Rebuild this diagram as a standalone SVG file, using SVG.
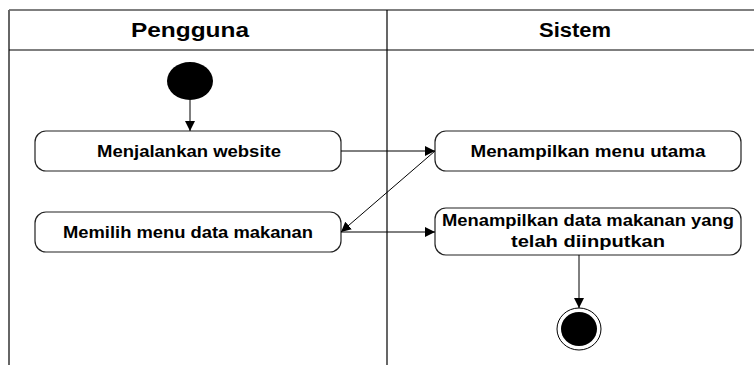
<svg xmlns="http://www.w3.org/2000/svg" width="754" height="365" viewBox="0 0 754 365">
<style>
.box{fill:#fff;stroke:#222;stroke-width:1.2}
.t{font-family:"Liberation Sans",Arial,sans-serif;font-weight:bold;font-size:17px;text-anchor:middle;fill:#000}
.h{font-family:"Liberation Sans",Arial,sans-serif;font-weight:bold;font-size:20px;text-anchor:middle;fill:#000}
.c{fill:none;stroke:#000;stroke-width:1;marker-end:url(#ah)}
</style>
<defs>
<marker id="ah" viewBox="0 0 10 10" refX="10" refY="5" markerWidth="10" markerHeight="10" markerUnits="userSpaceOnUse" orient="auto">
<path d="M0,0 L10,5 L0,10 z" fill="#000"/>
</marker>
</defs>
<rect width="754" height="365" fill="#fff"/>
<g id="swimlanes">
<line x1="9" y1="10" x2="754" y2="10" stroke="#555" stroke-width="1.5"/>
<line x1="9" y1="10" x2="9" y2="365" stroke="#666" stroke-width="2"/>
<line x1="9" y1="50" x2="754" y2="50" stroke="#000" stroke-width="1.2"/>
<line x1="387" y1="10" x2="387" y2="365" stroke="#000" stroke-width="1.2"/>
<text class="h" x="190" y="37" textLength="118" lengthAdjust="spacingAndGlyphs">Pengguna</text>
<text class="h" x="575" y="37" textLength="72" lengthAdjust="spacingAndGlyphs">Sistem</text>
</g>
<g id="start"><ellipse cx="190" cy="81" rx="23" ry="19" fill="#000"/></g>
<g id="n1"><rect class="box" x="35" y="131" width="306" height="40" rx="11"/><text class="t" x="189" y="157" textLength="184" lengthAdjust="spacingAndGlyphs">Menjalankan website</text></g>
<g id="n2"><rect class="box" x="35" y="212" width="306" height="40" rx="11"/><text class="t" x="188" y="238" textLength="250" lengthAdjust="spacingAndGlyphs">Memilih menu data makanan</text></g>
<g id="n3"><rect class="box" x="435" y="131" width="306" height="40" rx="11"/><text class="t" x="588" y="157" textLength="235" lengthAdjust="spacingAndGlyphs">Menampilkan menu utama</text></g>
<g id="n4"><rect class="box" x="435" y="208" width="306" height="47" rx="11"/><text class="t" x="588" y="226" textLength="292" lengthAdjust="spacingAndGlyphs">Menampilkan data makanan yang</text><text class="t" x="588" y="247" textLength="154" lengthAdjust="spacingAndGlyphs">telah diinputkan</text></g>
<g id="end"><ellipse cx="579" cy="329" rx="22" ry="21" fill="#fff" stroke="#000" stroke-width="1"/><ellipse cx="579" cy="329" rx="18" ry="17" fill="#000"/></g>
<g id="connectors">
<line class="c" x1="190" y1="100" x2="190" y2="131"/>
<line class="c" x1="341" y1="151" x2="435" y2="151"/>
<line class="c" x1="435" y1="151" x2="341" y2="232"/>
<line class="c" x1="341" y1="232" x2="435" y2="232"/>
<line class="c" x1="579" y1="255" x2="579" y2="308"/>
</g>
</svg>
